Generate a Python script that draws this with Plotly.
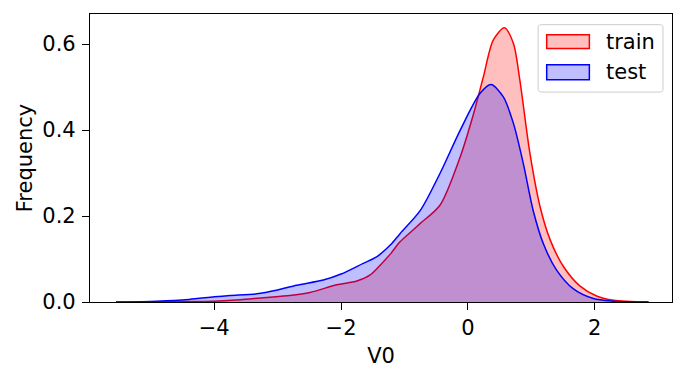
import plotly.graph_objects as go

# ---- data ----
train_x = [-5.55, -4.5, -4.0, -3.59, -3.23, -2.81, -2.49, -2.07, -1.75, -1.54, -1.38, -1.22,
           -1.07, -0.9, -0.75, -0.44, -0.12, 0.09, 0.245, 0.40, 0.576, 0.72, 0.82, 0.98, 1.14,
           1.30, 1.51, 1.77, 2.03, 2.3, 2.85]
train_y = [0.000, 0.001, 0.002, 0.005, 0.010, 0.015, 0.022, 0.040, 0.049, 0.063, 0.086, 0.112,
           0.140, 0.163, 0.183, 0.225, 0.338, 0.438, 0.524, 0.609, 0.638, 0.601, 0.516, 0.345,
           0.221, 0.144, 0.082, 0.037, 0.014, 0.004, 0.000]

test_x = [-5.55, -4.9, -4.4, -4.0, -3.75, -3.33, -3.0, -2.7, -2.28, -2.0, -1.65, -1.44, -1.22,
          -1.07, -0.75, -0.44, -0.12, 0.19, 0.366, 0.56, 0.72, 0.875, 1.03, 1.19, 1.40,
          1.66, 1.98, 2.3, 2.85]
test_y = [0.000, 0.002, 0.006, 0.012, 0.015, 0.019, 0.028, 0.039, 0.051, 0.065, 0.090, 0.105,
          0.133, 0.159, 0.213, 0.299, 0.400, 0.485, 0.506, 0.477, 0.415, 0.322, 0.213, 0.136,
          0.074, 0.031, 0.008, 0.002, 0.000]

series_names = ["train", "test"]
x_ticks = [-4, -2, 0, 2]
y_ticks = [0.0, 0.2, 0.4, 0.6]

FONT = "DejaVu Sans"
FS = 21
fig = go.Figure()
fig.add_trace(go.Scatter(x=train_x, y=train_y, mode="lines", name=series_names[0],
                         line=dict(color="red", width=1.5, shape="spline", smoothing=0.8),
                         fill="tozeroy", fillcolor="rgba(255,0,0,0.25)", showlegend=False))
fig.add_trace(go.Scatter(x=test_x, y=test_y, mode="lines", name=series_names[1],
                         line=dict(color="blue", width=1.5, shape="spline", smoothing=0.8),
                         fill="tozeroy", fillcolor="rgba(0,0,255,0.25)", showlegend=False))

# ---- legend drawn as a matplotlib-style box ----
def rrect(x0, y0, x1, y1, r):
    return (f"M {x0+r},{y0} L {x1-r},{y0} Q {x1},{y0} {x1},{y0+r} L {x1},{y1-r} "
            f"Q {x1},{y1} {x1-r},{y1} L {x0+r},{y1} Q {x0},{y1} {x0},{y1-r} "
            f"L {x0},{y0+r} Q {x0},{y0} {x0+r},{y0} Z")

shapes = [dict(type="path", xref="x domain", yref="y domain",
               path=rrect(0.770, 0.729, 0.9845, 0.963, 0.008),
               line=dict(color="#cccccc", width=1), fillcolor="rgba(255,255,255,0.8)")]
legend_rows = [(0.880, 0.928, "red", "rgba(255,0,0,0.25)", 0.904),
               (0.772, 0.824, "blue", "rgba(0,0,255,0.25)", 0.798)]
annotations = []
for (y0, y1, lc, fc, ty), name in zip(legend_rows, series_names):
    shapes.append(dict(type="rect", xref="x domain", yref="y domain",
                       x0=0.7847, x1=0.858, y0=y0, y1=y1,
                       line=dict(color=lc, width=1.5), fillcolor=fc))
    annotations.append(dict(xref="x domain", yref="y domain", x=0.884, y=ty,
                            text=name, showarrow=False, xanchor="left", yanchor="middle",
                            font=dict(family=FONT, size=FS, color="black")))

axis_common = dict(showline=True, linecolor="black", linewidth=1.2, mirror=True,
                   ticks="outside", ticklen=7, tickwidth=1.2, tickcolor="black",
                   showgrid=False, zeroline=False,
                   tickfont=dict(family=FONT, size=FS, color="black"))

# the page body has an 8px margin; size the figure so it fits the 687x381 window
fig.update_layout(
    width=671, height=365,
    margin=dict(l=82, r=7, t=6, b=71),
    paper_bgcolor="white", plot_bgcolor="white",
    font=dict(family=FONT, size=FS, color="black"),
    shapes=shapes, annotations=annotations,
    xaxis=dict(range=[-5.96, 3.22], tickvals=x_ticks, ticklabelstandoff=0,
               title=dict(text="V0", font=dict(family=FONT, size=FS), standoff=9),
               **axis_common),
    yaxis=dict(range=[0, 0.670], tickvals=y_ticks, tickformat=".1f", ticklabelstandoff=2,
               title=dict(text="Frequency", font=dict(family=FONT, size=FS), standoff=3),
               **axis_common),
)

fig.write_html("out.html")
